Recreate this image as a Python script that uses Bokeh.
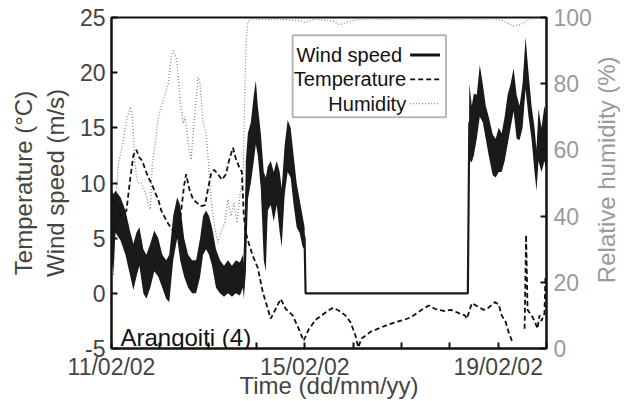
import math
from bokeh.plotting import figure
from bokeh.layouts import row
from bokeh.models import Range1d, LinearAxis, FixedTicker, BoxAnnotation, Label, Arrow
from bokeh.embed import file_html
from bokeh.resources import INLINE

# ---- data (time in hours since 11/02/02 00:00) ----
wind_hours = [0.00, 0.99, 1.98, 4.45, 6.92, 9.39, 10.87, 12.36, 13.84, 15.82, 17.30, 19.27,
              21.25, 23.23, 25.21, 27.18, 28.67, 30.64, 32.62, 34.10, 36.08, 38.06, 40.03,
              42.01, 43.99, 45.47, 46.95, 48.43, 49.92, 51.89, 53.87, 55.85, 57.83, 59.80,
              61.78, 63.76, 65.24, 65.73, 66.72, 67.71, 69.19, 70.68, 71.66, 72.65, 74.14,
              75.62, 76.61, 77.59, 79.08, 80.56, 82.04, 83.53, 84.51, 86.00, 87.48, 88.96,
              90.44, 91.93, 93.41, 94.89, 95.88, 96.37, 176.94, 177.68, 178.91, 179.90,
              181.38, 182.87, 184.35, 185.83, 187.31, 189.29, 190.77, 192.26, 193.74,
              195.22, 196.70, 198.19, 199.67, 201.15, 202.63, 204.12, 205.60, 207.08,
              208.57, 210.05, 211.04, 212.02, 213.51, 214.99, 215.98]
wind_low = [3.0, 2.0, 5.5, 4.8, 3.5, 1.5, 0.3, 1.5, 2.5, 0.0, -0.5, 0.5,
            2.0, 1.5, 0.5, -0.5, -0.8, 3.0, 5.0, 3.0, 1.5, 0.5, 0.0,
            0.0, 1.5, 3.5, 4.0, 3.5, 2.5, 0.5, 0.0, -0.3, 0.0, -0.3,
            0.0, -0.2, 0.5, -0.5, 2.0, 8.5, 10.0, 12.0, 13.5, 12.5, 9.5,
            3.0, 2.0, 7.5, 8.0, 6.5, 8.0, 5.5, 4.2, 9.0, 11.0, 10.5,
            8.0, 6.0, 5.5, 4.2, 4.0, 0.0, 0.0, 12.0, 11.9, 12.5,
            14.0, 16.0, 15.5, 14.0, 12.5, 10.7, 10.5, 11.0, 11.0,
            12.0, 13.5, 15.0, 16.5, 14.0, 13.9, 15.0, 18.5, 16.0,
            14.0, 11.0, 9.3, 12.0, 11.0, 12.0, 11.0]
wind_high = [9.3, 9.0, 9.3, 8.7, 7.5, 5.5, 4.5, 5.5, 6.0, 4.0, 3.5, 4.5,
             5.7, 5.0, 3.5, 3.0, 3.5, 7.0, 8.7, 8.0, 5.0, 3.5, 3.0,
             3.0, 5.0, 7.0, 7.5, 7.0, 6.0, 4.0, 3.0, 2.5, 3.0, 2.5,
             3.0, 2.8, 3.5, 2.5, 12.0, 14.5, 15.5, 18.0, 19.3, 17.0, 14.5,
             11.0, 10.5, 11.5, 12.0, 11.0, 12.0, 11.0, 9.5, 13.5, 15.7, 15.0,
             12.5, 10.0, 8.5, 7.0, 6.0, 0.0, 0.0, 19.0, 17.0, 18.1,
             18.0, 20.7, 19.0, 17.0, 16.0, 14.4, 14.0, 15.0, 14.5,
             16.0, 18.0, 19.0, 20.4, 18.0, 17.0, 19.0, 23.2, 20.0,
             17.0, 15.0, 13.0, 16.7, 15.0, 17.0, 16.0]

temp_hours = [0.00, 2.47, 4.94, 7.41, 9.39, 10.87, 12.36, 13.84, 15.32, 16.80, 18.29, 20.26,
              21.75, 23.23, 24.71, 26.69, 28.17, 30.15, 31.63, 33.11, 34.60, 36.08, 37.07,
              38.55, 40.53, 42.50, 44.48, 46.46, 47.94, 49.42, 50.91, 52.88, 54.86, 56.84,
              58.32, 60.30, 61.78, 63.26, 64.74, 65.73, 66.72, 68.20, 70.18, 72.65, 75.12,
              77.59, 79.08, 81.55, 84.02, 86.49, 89.95, 92.92, 95.39, 97.86, 101.32, 104.28,
              107.25, 110.21, 113.18, 116.14, 118.62, 121.09, 122.57, 124.05, 126.52, 128.50,
              132.45, 136.41, 141.35, 145.30, 148.27, 151.73, 154.69, 157.66, 160.63, 165.07,
              168.53, 172.49, 175.45, 176.44, 178.91, 181.88, 184.84, 187.31, 190.28, 192.26,
              193.74, 195.72, 197.20, 199.18, 202.0, 205.12, 205.86, 206.59, 208.57, 210.05,
              211.54, 212.52, 213.51, 214.99, 215.48]
temp_c = [8.5, 8.0, 7.0, 7.5, 10.5, 12.5, 13.0, 12.3, 12.0, 11.2, 10.5, 9.8,
          9.1, 8.5, 7.5, 6.8, 6.3, 5.8, 5.4, 5.0, 7.5, 9.8, 10.8,
          9.5, 8.5, 8.2, 7.9, 8.0, 9.5, 10.8, 11.2, 10.8, 10.3, 10.8,
          12.0, 13.2, 12.2, 11.5, 11.0, 7.0, 5.5, 4.5, 3.4, 2.3, 0.1,
          -1.4, -2.3, -1.4, -0.5, -1.4, -2.0, -3.2, -4.3, -3.3, -2.4, -2.0,
          -1.6, -1.3, -1.6, -2.0, -2.6, -3.8, -4.9, -4.1, -3.8, -3.5,
          -3.2, -2.9, -2.6, -2.4, -2.2, -1.8, -1.4, -1.1, -1.4, -1.6,
          -1.5, -1.8, -2.0, -2.3, -0.9, -1.2, -1.5, -1.3, -0.8, -1.0,
          -2.0, -2.6, -3.5, -4.5, float("nan"), -3.2, 5.3, -1.5, -2.0, -2.5,
          -3.2, -2.0, -2.5, -1.8, 1.6]

hum_hours = [0.00, 0.99, 1.98, 3.46, 4.94, 6.43, 7.91, 9.39, 10.38, 11.37, 12.36, 13.34,
             14.83, 16.31, 17.79, 19.27, 20.26, 21.75, 23.23, 24.71, 26.69, 28.17, 29.65,
             30.64, 32.13, 33.11, 34.10, 35.58, 36.57, 38.06, 39.54, 40.53, 42.01, 43.00,
             43.99, 45.47, 46.95, 47.94, 49.42, 51.40, 52.88, 54.86, 56.34, 57.83, 59.31,
             60.79, 62.27, 63.76, 65.24, 65.98, 66.72, 67.71, 68.70, 73.64, 83.53, 93.41,
             95.88, 100.82, 109.72, 113.18, 116.64, 123.06, 142.83, 167.54, 192.26, 195.72,
             199.67, 203.62, 207.08, 215.98]
hum_pct = [30, 22, 44, 56, 60, 65, 70, 73, 70, 58, 52, 50,
           50, 48, 45, 42, 56, 62, 70, 73, 77, 80, 88,
           90, 88, 82, 75, 68, 70, 62, 57, 65, 75, 82,
           80, 68, 65, 58, 45, 36, 32, 36, 38, 45, 40,
           44, 38, 46, 52, 70, 91, 98.5, 99.5, 99.5, 99.5, 99.0,
           98.5, 99.5, 99.0, 97.8, 98.5, 99.5, 99.5, 99.5, 99.5, 98.5,
           97.5, 98.0, 99.5, 100]

day_ticks = [0, 24, 48, 72, 96, 120, 144, 168, 192, 216]
day_labels = {0: "11/02/02", 96: "15/02/02", 192: "19/02/02"}
left_ticks = [-5, 0, 5, 10, 15, 20, 25]
right_ticks = [0, 20, 40, 60, 80, 100]

wind_mid = [(a + b) / 2 for a, b in zip(wind_low, wind_high)]

FONT = "Liberation Sans"
GREY = "#9a9a9a"
INK = "#111111"

p = figure(width=594, height=401, output_backend="svg", toolbar_location=None,
           x_range=Range1d(0, 216), y_range=Range1d(-5, 25),
           min_border_left=111, min_border_right=46, min_border_top=17,
           min_border_bottom=53)
p.extra_y_ranges = {"hum": Range1d(0, 100)}
p.grid.visible = False
p.outline_line_color = INK
p.outline_line_width = 2
p.background_fill_color = "white"
p.border_fill_color = "white"

# series
p.line(hum_hours, hum_pct, y_range_name="hum", line_color="#8a8a8a",
       line_width=1.3, line_dash="1 2")
p.varea(x=wind_hours, y1=wind_low, y2=wind_high, fill_color="#1a1a1a")
p.line(wind_hours, wind_mid, line_color="#1a1a1a", line_width=2.2)
p.line(temp_hours, temp_c, line_color=INK, line_width=1.8, line_dash="5 3")

# axes
right = LinearAxis(y_range_name="hum")
p.add_layout(right, "right")

xa = p.xaxis[0]
xa.ticker = FixedTicker(ticks=day_ticks)
xa.major_label_overrides = {t: day_labels.get(t, "") for t in day_ticks}
xa.axis_label = "Time (dd/mm/yy)"
xa.major_label_standoff = 5
xa.axis_label_standoff = -11

ya = p.yaxis[0]
ya.ticker = FixedTicker(ticks=left_ticks)
ya.major_label_overrides = {-5: "-5"}
ya.axis_label = "Temperature (°C)\nWind speed (m/s)"
ya.major_label_standoff = 6
ya.axis_label_standoff = 8

right.ticker = FixedTicker(ticks=right_ticks)
right.major_label_standoff = 7
right.major_label_text_color = GREY

for ax in (xa, ya, right):
    ax.major_tick_in = 6
    ax.major_tick_out = 0
    ax.minor_tick_line_color = None
    ax.axis_line_width = 2
    ax.major_tick_line_width = 2
    ax.axis_line_color = INK
    ax.major_tick_line_color = INK
    ax.major_label_text_font = FONT
    ax.major_label_text_font_size = "23px"
    ax.axis_label_text_font = FONT
    ax.axis_label_text_font_size = "24px"
    ax.axis_label_text_font_style = "normal"

# legend (custom, labels right-aligned with keys on the right)
p.add_layout(BoxAnnotation(left=89.95, right=166.06, top=23.39, bottom=15.96,
                           fill_color="white", fill_alpha=1.0,
                           line_color=INK, line_width=2))
legend_rows = [("Wind speed", 21.6, 144.3, dict(line_color=INK, line_width=3)),
               ("Temperature", 19.4, 146.3, dict(line_color=INK, line_width=1.8, line_dash="5 3")),
               ("Humidity", 17.2, 146.3, dict(line_color="#8a8a8a", line_width=1.3, line_dash="1 2"))]
for name, yv, xr, style in legend_rows:
    p.add_layout(Label(x=xr, y=yv, text=name, text_align="right", text_baseline="middle",
                       text_font=FONT, text_font_size="20px", text_color=INK))
    p.add_layout(Arrow(end=None, x_start=148.3, y_start=yv, x_end=163.1, y_end=yv, **style))

p.add_layout(Label(x=4.45, y=-4.0, text="Arangoiti (4)", text_align="left",
                   text_baseline="alphabetic", text_font=FONT, text_font_size="24px",
                   text_color=INK))

# narrow side panel carrying the right-axis title (reads bottom to top)
side = figure(width=26, height=401, output_backend="svg", toolbar_location=None,
              x_range=Range1d(0, 1), y_range=Range1d(0, 1),
              x_axis_type=None, y_axis_type=None, min_border=0)
side.grid.visible = False
side.outline_line_color = None
side.background_fill_color = "white"
side.border_fill_color = "white"
side.add_layout(Label(x=0.46, y=0.54, text="Relative humidity (%)", angle=math.pi / 2,
                      text_align="center", text_baseline="middle", text_font=FONT,
                      text_font_size="24px", text_color=GREY))

layout = row(p, side, spacing=0)
open("out.html", "w").write(file_html(layout, INLINE))
